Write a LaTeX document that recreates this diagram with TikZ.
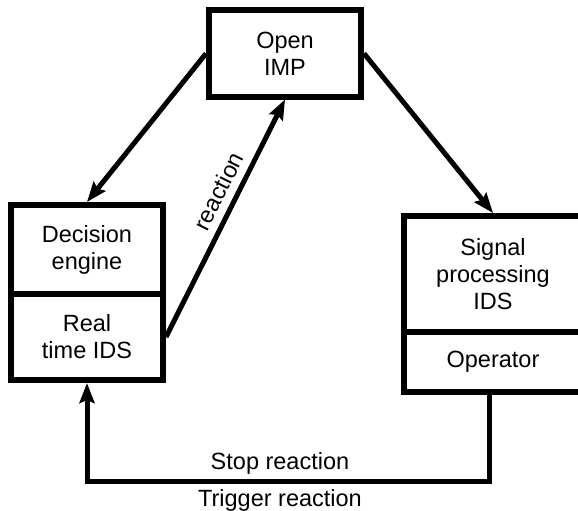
\documentclass[tikz,border=0pt]{standalone}
\usepackage{fontspec}
\setmainfont{Liberation Sans}
\usetikzlibrary{arrows.meta}

\tikzset{
  block/.style={draw, line width=6pt, align=center, inner sep=0pt},
  conn/.style={line width=5pt, -{Stealth[length=20pt,width=15pt,inset=3pt]}},
}

\begin{document}
\begin{tikzpicture}[x=1pt, y=-1pt, font=\fontsize{23.5}{27}\selectfont]

\useasboundingbox (0,0) rectangle (578,511);
\clip (0,0) rectangle (578,511);

% Boxes
\node[block, minimum width=152pt, minimum height=86pt] (imp) at (285,53.5) {Open\\IMP};

\node[block, minimum width=152pt, minimum height=89pt] (dec) at (87,249.5) {Decision\\engine};
\node[block, minimum width=152pt, minimum height=86pt] (rt) at (87,337) {Real\\time IDS};

\node[block, minimum width=178pt, minimum height=116pt] (sig) at (493,274) {Signal\\processing\\IDS};
\node[block, minimum width=178pt, minimum height=60pt] (op) at (493,362) {Operator};

% Arrows
\draw[conn] (imp.west) -- (dec.north);
\draw[conn] (rt.east) -- (imp.south) node[pos=0.58, sloped, above=4pt] {reaction};
\draw[conn] (imp.east) -- (sig.north);

% Loop back under the boxes
\coordinate (back) at (87,481);
\draw[conn] ([xshift=-4pt]op.south) |- (back)
  node[pos=0.76, above=1pt] {Stop reaction}
  node[pos=0.76, below=3pt] {Trigger reaction}
  -- (rt.south);

\end{tikzpicture}
\end{document}
